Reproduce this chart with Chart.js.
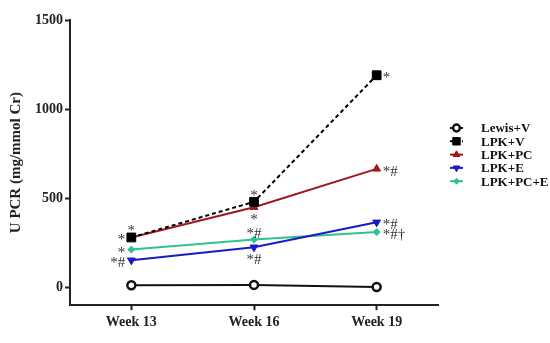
<!DOCTYPE html>
<html>
<head>
<meta charset="utf-8">
<script src="https://cdn.jsdelivr.net/npm/chart.js@4/dist/chart.umd.min.js"></script>
<style>
  html, body { margin:0; padding:0; background:#fff; }
  canvas { display:block; }
</style>
</head>
<body>
<canvas id="chart" width="550" height="343"></canvas>
<script>
/* ── DATOS ── */
const WEEKS    = ['Week 13', 'Week 16', 'Week 19'];
const Y_TICKS  = [0, 500, 1000, 1500];
const SERIES   = ['Lewis+V', 'LPK+V', 'LPK+PC', 'LPK+E', 'LPK+PC+E'];

const lewisV   = [12, 14, 2];
const lpkV     = [280, 480, 1190];
const lpkPC    = [280, 450, 665];
const lpkE     = [152, 225, 365];
const lpkPCE   = [212, 268, 310];

// significance marks per point
const notesLewisV = ['', '', ''];
const notesLpkV   = ['*', '*', '*'];
const notesLpkPC  = ['*', '*', '*#'];
const notesLpkE   = ['*#', '*#', '*#'];
const notesLpkPCE = ['*', '*#', '*#†'];

const SERIF = '"Liberation Serif", "DejaVu Serif", serif';

/* ── ESTILOS ── */
const STYLES = [
  { color:'#111',    point:'circle',    radius:4,   rot:0,   fill:'#fff', pbw:2.5, dash:[] },
  { color:'#000',    point:'rect',      radius:6.2, rot:0,   fill:'#000', pbw:1,   dash:[4, 3] },
  { color:'#a3161c', point:'triangle',  radius:4.5, rot:0,   fill:'#a3161c', pbw:1, dash:[] },
  { color:'#1b1bc4', point:'triangle',  radius:4.5, rot:180, fill:'#1b1bc4', pbw:1, dash:[] },
  { color:'#2cc48c', point:'rectRot',   radius:3.5, rot:0,   fill:'#2cc48c', pbw:1, dash:[] },
];
// where each note goes relative to its point
const PLACE = [
  ['', '', ''],
  ['above', 'above', 'right'],
  ['left', 'below', 'right'],
  ['left', 'below', 'right'],
  ['left', 'above', 'right'],
];

const values = [lewisV, lpkV, lpkPC, lpkE, lpkPCE];
const notes  = [notesLewisV, notesLpkV, notesLpkPC, notesLpkE, notesLpkPCE];

/* ── PLUGIN: marcas de significancia ── */
const notesPlugin = {
  id: 'notes',
  afterDatasetsDraw(chart) {
    const ctx = chart.ctx;
    ctx.save();
    ctx.font = '15px ' + SERIF;
    ctx.fillStyle = '#333';
    ctx.textBaseline = 'middle';
    notes.forEach((arr, i) => {
      const meta = chart.getDatasetMeta(i);
      arr.forEach((txt, j) => {
        if (!txt) return;
        const p = meta.data[j];
        const where = PLACE[i][j];
        let x = p.x, y = p.y;
        if (where === 'above')      { ctx.textAlign = 'center'; y -= 6; }
        else if (where === 'below') { ctx.textAlign = 'center'; y += 13; }
        else if (where === 'left')  { ctx.textAlign = 'right';  x -= 6; y += 3; }
        else                        { ctx.textAlign = 'left';   x += 6; y += 3; }
        ctx.fillText(txt, x, y);
      });
    });
    ctx.restore();
  }
};

/* ── PLUGIN: leyenda lateral ── */
const legendPlugin = {
  id: 'sideLegend',
  afterDraw(chart) {
    const ctx = chart.ctx;
    const x0 = 450, x1 = 463, tx = 481, y0 = 128, dy = 13.3;
    ctx.save();
    SERIES.forEach((name, i) => {
      const s = STYLES[i];
      const y = y0 + i * dy;
      ctx.strokeStyle = s.color;
      ctx.lineWidth = 2;
      ctx.setLineDash(s.dash.length ? [3, 3] : []);
      ctx.beginPath(); ctx.moveTo(x0, y); ctx.lineTo(x1, y); ctx.stroke();
      ctx.setLineDash([]);
      ctx.fillStyle = s.fill;
      ctx.lineWidth = s.pbw;
      Chart.helpers.drawPoint(ctx, {
        pointStyle: s.point, radius: s.radius * 0.85, rotation: s.rot, borderWidth: s.pbw
      }, (x0 + x1) / 2, y);
      ctx.fillStyle = '#111';
      ctx.font = 'bold 13px ' + SERIF;
      ctx.textAlign = 'left';
      ctx.textBaseline = 'middle';
      ctx.fillText(name, tx, y + 1);
    });
    ctx.restore();
  }
};

/* ── GRÁFICO ── */
new Chart(document.getElementById('chart'), {
  type: 'line',
  data: {
    labels: WEEKS,
    datasets: SERIES.map((name, i) => ({
      label: name,
      data: values[i],
      borderColor: STYLES[i].color,
      backgroundColor: STYLES[i].fill,
      borderWidth: 2,
      borderDash: STYLES[i].dash,
      pointStyle: STYLES[i].point,
      pointRadius: STYLES[i].radius,
      pointRotation: STYLES[i].rot,
      pointBorderWidth: STYLES[i].pbw,
      pointBorderColor: STYLES[i].color,
      pointBackgroundColor: STYLES[i].fill,
      tension: 0,
    })),
  },
  options: {
    responsive: false,
    animation: false,
    layout: { padding: { top: 20, right: 112, bottom: 8, left: 7 } },
    plugins: { legend: { display: false }, tooltip: { enabled: false } },
    scales: {
      x: {
        offset: true,
        grid: { drawOnChartArea: false, drawTicks: true, tickLength: 5, tickColor: '#222', tickWidth: 2 },
        border: { color: '#222', width: 2 },
        ticks: { color: '#222', font: { family: SERIF, size: 14, weight: 'bold' }, padding: 4 },
      },
      y: {
        min: -100, max: 1500,
        afterBuildTicks: axis => { axis.ticks = Y_TICKS.map(v => ({ value: v })); },
        grid: { drawOnChartArea: false, drawTicks: true, tickLength: 5, tickColor: '#222', tickWidth: 2 },
        border: { color: '#222', width: 2 },
        ticks: { color: '#222', font: { family: SERIF, size: 14, weight: 'bold' }, padding: 2,
                 callback: v => String(v) },
        title: { display: true, text: 'U PCR (mg/mmol Cr)', color: '#222',
                 font: { family: SERIF, size: 15, weight: 'bold' }, padding: { top: 0, bottom: 8 } },
      },
    },
  },
  plugins: [notesPlugin, legendPlugin],
});
</script>
</body>
</html>
